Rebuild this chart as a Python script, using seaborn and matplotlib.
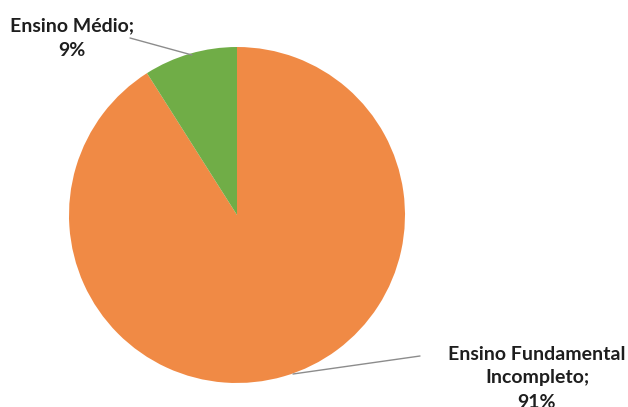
import matplotlib
matplotlib.use("Agg")
import matplotlib.pyplot as plt
import seaborn as sns

categories = ["Ensino Fundamental\nIncompleto", "Ensino Médio"]
values = [91, 9]
colors = ["#F08A45", "#70AD47"]

sns.set_theme(style="white")
plt.rcParams['font.family'] = ['Lato', 'DejaVu Sans']

W, H = 628, 407
fig = plt.figure(figsize=(W / 100, H / 100), dpi=100)
ax = fig.add_axes([0, 0, 1, 1])

cx, cy, r = 237, H - 215, 168
ax.pie(values, colors=colors, startangle=90, counterclock=False,
       center=(cx, cy), radius=r, frame=True,
       wedgeprops=dict(linewidth=0))
ax.set_xlim(0, W)
ax.set_ylim(0, H)
ax.set_aspect("equal")
ax.axis("off")

txt = dict(fontsize=14, fontweight="bold", color="#1E1E1E", ha="center", va="center")
ax.text(72, H - 38, f"{categories[1]};\n{values[1]}%", linespacing=1.5, **txt)
ax.text(537, H - 378, f"{categories[0]};\n{values[0]}%", linespacing=1.5, **txt)

ax.plot([130, 192], [H - 38, H - 55], color="#8C8C8C", lw=1)
ax.plot([420, 293], [H - 356, H - 374], color="#8C8C8C", lw=1)

fig.savefig("out.png", dpi=100)
